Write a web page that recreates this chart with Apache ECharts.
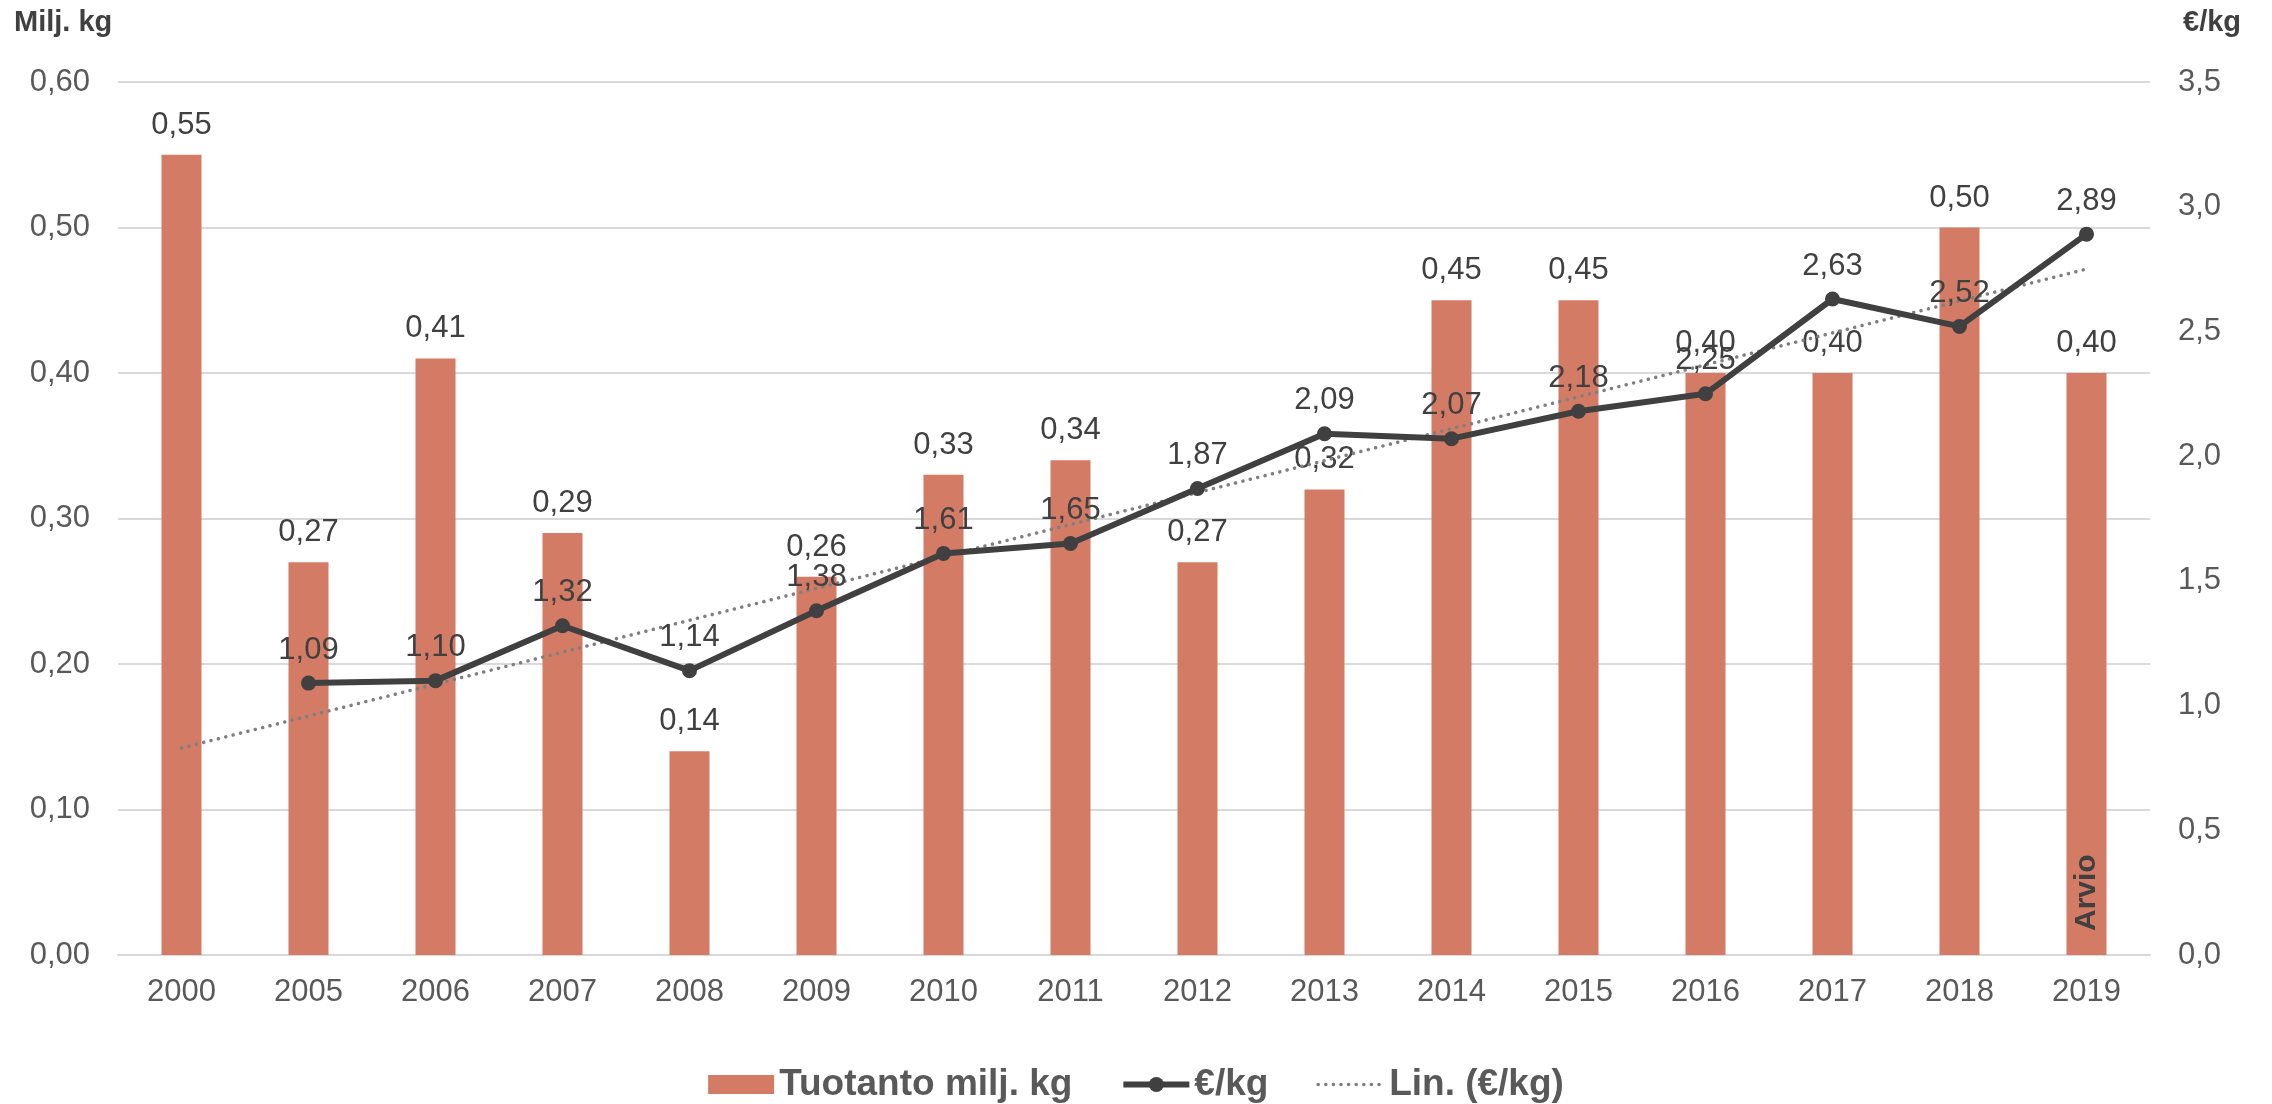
<!DOCTYPE html>
<html>
<head>
<meta charset="utf-8">
<script src="https://cdn.jsdelivr.net/npm/echarts@6/dist/echarts.min.js"></script>
<style>
html,body{margin:0;padding:0;background:#fff;}
#chart{width:2272px;height:1104px;}
</style>
</head>
<body>
<div id="chart"></div>
<script>
const years = ['2000','2005','2006','2007','2008','2009','2010','2011','2012','2013','2014','2015','2016','2017','2018','2019'];
const production = [0.55,0.27,0.41,0.29,0.14,0.26,0.33,0.34,0.27,0.32,0.45,0.45,0.40,0.40,0.50,0.40];
const pricePerKg = [null,1.09,1.10,1.32,1.14,1.38,1.61,1.65,1.87,2.09,2.07,2.18,2.25,2.63,2.52,2.89];
const trendStart = 0.83;   // linear trend value read at 2000
const trendEnd = 2.75;     // linear trend value read at 2019
const estimateNotes = ['','','','','','','','','','','','','','','','Arvio'];
const leftTicks = {min:0, max:0.6, interval:0.1};
const rightTicks = {min:0, max:3.5, interval:0.5};

const trendData = years.map((y,i)=> i===0 ? trendStart : (i===years.length-1 ? trendEnd : null));
const arvioData = production.map((v,i)=> estimateNotes[i] ? v : null);

const FONT = '"Liberation Sans", Arial, sans-serif';
const chart = echarts.init(document.getElementById('chart'));
chart.setOption({
  animation:false,
  backgroundColor:'#fff',
  textStyle:{fontFamily:FONT},
  grid:{left:118, right:122, top:82, bottom:149},
  legend:{
    data:[
      {name:'Tuotanto milj. kg', icon:'rect'},
      {name:'€/kg', lineStyle:{width:6, color:'#404040'}},
      {name:'Lin. (€/kg)', itemStyle:{color:'rgba(0,0,0,0)', borderWidth:0},
       lineStyle:{width:3.5, color:'#7f7f7f', type:[0.1,7.5], cap:'round'}}
    ],
    left:'center', top:1061,
    itemWidth:66, itemHeight:19, itemGap:48,
    textStyle:{fontFamily:FONT, fontSize:37, fontWeight:'bold', color:'#595959', padding:[0,0,0,0]}
  },
  graphic:[
    {type:'text', left:14, top:8, style:{text:'Milj. kg', font:'bold 29px '+FONT, fill:'#404040'}},
    {type:'text', left:2183, top:8, style:{text:'€/kg', font:'bold 29px '+FONT, fill:'#404040'}}
  ],
  xAxis:{
    type:'category', data:years,
    axisTick:{show:false},
    axisLine:{lineStyle:{color:'#d9d9d9', width:2}},
    axisLabel:{color:'#595959', fontSize:31, margin:22, fontFamily:FONT}
  },
  yAxis:[
    {type:'value', min:leftTicks.min, max:leftTicks.max, interval:leftTicks.interval,
     axisLine:{show:false}, axisTick:{show:false},
     splitLine:{lineStyle:{color:'#d9d9d9', width:2}},
     axisLabel:{color:'#595959', fontSize:31, margin:28, fontFamily:FONT,
       formatter:v=>v.toFixed(2).replace('.',',')}},
    {type:'value', min:rightTicks.min, max:rightTicks.max, interval:rightTicks.interval,
     axisLine:{show:false}, axisTick:{show:false}, splitLine:{show:false},
     axisLabel:{color:'#595959', fontSize:31, margin:28, fontFamily:FONT,
       formatter:v=>v.toFixed(1).replace('.',',')}}
  ],
  series:[
    {name:'Tuotanto milj. kg', type:'bar', data:production, barWidth:40, barGap:'-100%',
     itemStyle:{color:'#D47B65'},
     label:{show:true, position:'top', distance:14, color:'#404040', fontSize:31, fontFamily:FONT,
       formatter:p=>p.value.toFixed(2).replace('.',',')}},
    {name:'arvio', type:'bar', data:arvioData, barWidth:40, barGap:'-100%',
     itemStyle:{color:'rgba(0,0,0,0)'}, silent:true,
     label:{show:true, position:'insideBottom', rotate:90, align:'left', verticalAlign:'middle',
       distance:24, color:'#404040', fontSize:30, fontWeight:'bold', fontFamily:FONT,
       formatter:p=>estimateNotes[p.dataIndex]}},
    {name:'€/kg', type:'line', yAxisIndex:1, data:pricePerKg, z:5,
     symbol:'circle', symbolSize:15,
     lineStyle:{color:'#404040', width:6},
     itemStyle:{color:'#404040'},
     label:{show:true, position:'top', distance:10, color:'#404040', fontSize:31, fontFamily:FONT,
       formatter:p=>p.value.toFixed(2).replace('.',',')}},
    {name:'Lin. (€/kg)', type:'line', yAxisIndex:1, data:trendData, connectNulls:true, z:4,
     symbol:'none',
     lineStyle:{color:'#7f7f7f', width:3.5, type:[0.1,7.5], cap:'round'},
     itemStyle:{color:'#7f7f7f'}}
  ]
});
</script>
</body>
</html>
